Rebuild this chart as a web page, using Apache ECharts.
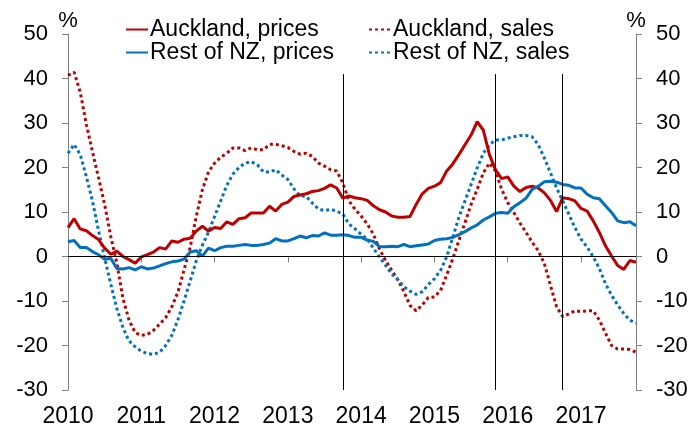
<!DOCTYPE html>
<html>
<head>
<meta charset="utf-8">
<script src="https://cdn.jsdelivr.net/npm/echarts@6/dist/echarts.min.js"></script>
<style>
  html, body { margin: 0; padding: 0; background: #fff; }
  #chart { width: 693px; height: 428px; }
</style>
</head>
<body>
<div id="chart"></div>
<script>
// monthly, Jan 2010 .. Oct 2017, annual % change
var months = []
for (var y = 2010; y <= 2017; y++) {
  for (var m = 1; m <= 12; m++) {
    if (y === 2017 && m > 10) break
    months.push(y + '-' + (m < 10 ? '0' + m : m))
  }
}

var aucklandPrices = [
  6.5, 8.5, 6.2, 5.8, 4.7, 3.8, 1.9, 0.5, 1.2, 0.0, -0.7, -1.5,
  -0.1, 0.4, 1.0, 2.0, 1.7, 3.5, 3.2, 3.9, 4.1, 5.7, 6.8, 5.7,
  6.5, 6.3, 7.8, 7.2, 8.5, 8.7, 9.8, 9.8, 9.8, 11.3, 10.2, 11.7,
  12.2, 13.5, 13.8, 14.1, 14.6, 14.8, 15.3, 16.1, 15.4, 13.1, 13.6, 13.2,
  13.0, 12.6, 11.4, 10.5, 10.0, 9.1, 8.8, 8.8, 9.0, 11.7, 14.1, 15.3,
  15.8, 16.6, 19.2, 20.8, 22.9, 25.1, 27.3, 30.3, 28.4, 22.9, 19.5, 17.5,
  17.9, 15.8, 14.6, 15.5, 15.8, 15.4, 14.3, 12.6, 10.1, 13.2, 13.0, 12.5,
  10.8, 10.2, 8.0, 5.4, 2.4, 0.1, -2.0, -2.9, -0.9, -1.3
]

var restPrices = [
  3.3, 3.6, 2.0, 2.0, 1.1, 0.4, -0.6, -0.4, -2.7, -2.8, -2.5, -3.0,
  -2.3, -2.8, -2.6, -2.1, -1.6, -1.2, -1.0, -0.6, 1.0, 1.3, 0.1, 1.9,
  1.3, 2.0, 2.3, 2.3, 2.5, 2.7, 2.5, 2.5, 2.7, 3.0, 4.0, 3.5,
  3.5, 4.0, 4.6, 4.2, 4.7, 4.6, 5.3, 4.8, 4.8, 4.9, 4.7, 4.3,
  4.3, 3.7, 3.4, 2.2, 2.2, 2.3, 2.2, 2.7, 2.2, 2.4, 2.6, 2.8,
  3.6, 3.9, 4.0, 4.3, 4.9, 5.6, 6.4, 7.1, 8.2, 8.9, 9.7, 9.9,
  9.7, 11.2, 12.1, 13.1, 15.1, 15.8, 16.8, 16.9, 16.7, 16.2, 16.0, 15.4,
  15.4, 14.0, 13.2, 13.0, 11.4, 9.9, 8.0, 7.6, 7.8, 6.9
]

var aucklandSales = [
  40.7, 41.4, 37.0, 29.7, 23.6, 17.7, 11.7, 4.5, -1.5, -9.5, -14.3, -17.1,
  -17.7, -17.5, -16.6, -15.2, -13.7, -11.3, -8.0, -3.0, 2.0, 9.0, 15.0, 19.0,
  21.0, 22.3, 23.2, 24.4, 24.4, 23.8, 24.4, 24.0, 24.0, 25.2, 25.2, 24.9,
  24.5, 23.6, 23.0, 23.2, 22.5, 21.0, 20.3, 19.5, 19.2, 16.5, 12.5, 10.6,
  9.1, 7.3, 5.0, 1.7, -0.9, -3.1, -5.2, -7.9, -11.0, -12.2, -10.9, -9.2,
  -9.1, -7.6, -4.2, -0.5, 3.6, 7.6, 11.7, 15.1, 18.8, 21.0, 19.2, 15.1,
  12.1, 9.9, 7.5, 5.4, 3.2, 1.3, -1.6, -6.5, -11.3, -13.5, -12.9, -12.2,
  -12.4, -12.2, -12.2, -14.3, -17.2, -20.0, -20.8, -20.8, -20.9, -21.5
]

var restSales = [
  23.2, 25.2, 22.9, 18.0, 12.5, 5.8, -0.3, -6.2, -11.7, -16.0, -19.0, -20.3,
  -21.3, -21.8, -22.0, -21.5, -20.0, -17.7, -14.2, -10.0, -5.5, -1.0, 2.5, 5.5,
  9.0, 12.5, 16.0, 18.5, 20.0, 21.0, 21.3, 20.6, 19.0, 19.0, 19.5, 18.3,
  17.3, 15.2, 13.6, 13.5, 12.0, 10.7, 10.3, 10.6, 10.2, 9.5, 7.3, 6.2,
  5.0, 3.9, 1.9, -0.1, -2.0, -3.9, -5.2, -6.8, -7.8, -8.5, -7.9, -6.3,
  -5.0, -3.1, -0.1, 4.3, 8.8, 12.5, 16.2, 19.9, 23.2, 25.1, 26.2, 26.2,
  26.6, 26.9, 27.2, 27.2, 26.9, 25.1, 22.1, 18.8, 15.4, 12.5, 9.5, 6.5,
  3.9, 2.1, -0.1, -2.7, -6.1, -8.7, -10.9, -12.8, -14.3, -15.0
]

// policy dates (vertical lines)
var policyDates = ['2013-10', '2015-11', '2016-10']

var RED = '#C00000'
var BLUE = '#0070C0'
var FONT = 'Liberation Sans, Arial, sans-serif'

var chart = echarts.init(document.getElementById('chart'))

function yAxisCfg(pos) {
  return {
    type: 'value',
    position: pos,
    min: -30,
    max: 50,
    interval: 10,
    name: '%',
    nameLocation: 'end',
    nameGap: 2,
    nameTextStyle: { color: '#000', fontSize: 22, fontFamily: FONT, align: 'center' },
    axisLine: { show: true, lineStyle: { color: '#808080', width: 1 } },
    axisTick: { show: true, inside: false, length: 6, lineStyle: { color: '#808080' } },
    axisLabel: { color: '#000', fontSize: 22, fontFamily: FONT, margin: 20 },
    splitLine: { show: false }
  }
}

function legendCfg(names, left) {
  return {
    data: names,
    orient: 'vertical',
    left: left,
    top: 18,
    padding: 0,
    itemWidth: 22,
    itemHeight: 12,
    itemGap: 0,
    itemStyle: { opacity: 0 },
    textStyle: { color: '#000', fontSize: 23, fontFamily: FONT, padding: [0, 0, 0, -3] }
  }
}

var vLines = policyDates.map(function (d) {
  return [{ coord: [d, 41] }, { coord: [d, -30] }]
})

var option = {
  animation: false,
  backgroundColor: '#fff',
  grid: { left: 68, right: 57, top: 34, bottom: 35 },
  legend: [
    legendCfg(['Auckland, prices', 'Rest of NZ, prices'], 125),
    legendCfg(['Auckland, sales', 'Rest of NZ, sales'], 368)
  ],
  xAxis: {
    type: 'category',
    data: months,
    boundaryGap: false,
    axisLine: { lineStyle: { color: '#808080' } },
    axisTick: {
      length: 6,
      interval: function (i) { return i % 12 === 0 },
      lineStyle: { color: '#808080' }
    },
    axisLabel: {
      interval: function (i) { return i % 12 === 0 },
      formatter: function (v) { return v.slice(0, 4) },
      color: '#000',
      fontSize: 23,
      fontFamily: FONT,
      margin: 15
    }
  },
  yAxis: [yAxisCfg('left'), yAxisCfg('right')],
  series: [
    {
      name: 'Auckland, prices',
      type: 'line',
      data: aucklandPrices,
      symbol: 'none',
      z: 4,
      lineStyle: { color: RED, width: 3 },
      itemStyle: { color: RED },
      markLine: {
        silent: true,
        symbol: 'none',
        label: { show: false },
        lineStyle: { color: '#000', width: 1, type: 'solid' },
        data: [[{ coord: [0, 0] }, { coord: [months.length - 1, 0] }]].concat(vLines)
      }
    },
    {
      name: 'Rest of NZ, prices',
      type: 'line',
      data: restPrices,
      symbol: 'none',
      z: 4,
      lineStyle: { color: BLUE, width: 3 },
      itemStyle: { color: BLUE }
    },
    {
      name: 'Auckland, sales',
      type: 'line',
      data: aucklandSales,
      symbol: 'none',
      z: 3,
      lineStyle: { color: RED, width: 3, type: [3, 3] },
      itemStyle: { color: RED }
    },
    {
      name: 'Rest of NZ, sales',
      type: 'line',
      data: restSales,
      symbol: 'none',
      z: 3,
      lineStyle: { color: BLUE, width: 3, type: [3, 3] },
      itemStyle: { color: BLUE }
    }
  ]
}

chart.setOption(option)
</script>
</body>
</html>
